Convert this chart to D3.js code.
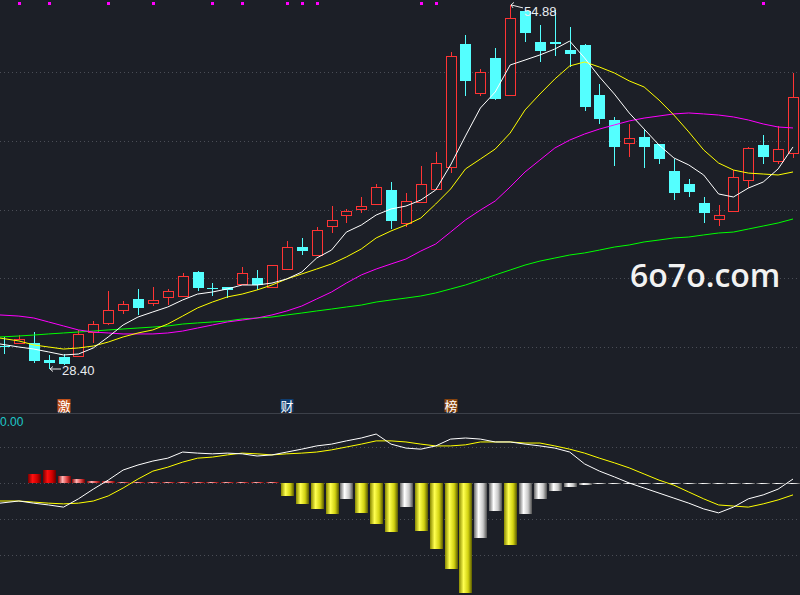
<!DOCTYPE html>
<html>
<head>
<meta charset="utf-8">
<script src="https://cdn.jsdelivr.net/npm/d3@7"></script>
<style>
  html, body { margin: 0; padding: 0; background: #1c1f27; overflow: hidden; }
  svg { display: block; }
</style>
</head>
<body>
<div id="chart"></div>
<script>
// candles (one per trading day, left to right)
const openP  = [30.07,30.29,30.29,29.05,29.27,29.35,31.09,31.75,32.69,33.49,33.20,33.64,33.71,35.45,34.30,34.36,34.58,35.02,34.36,35.67,37.27,36.69,38.80,39.60,40.04,40.40,41.42,39.02,40.55,41.49,43.09,52.04,48.47,51.02,48.33,54.44,52.18,52.18,51.60,51.96,48.33,46.51,44.84,45.27,44.76,42.80,41.85,40.47,39.31,39.89,42.15,44.69,43.53,44.11];
const highP  = [30.73,30.87,31.09,29.42,29.49,31.24,31.89,34.07,33.35,34.22,34.36,34.22,35.38,35.50,34.65,34.40,35.82,35.60,36.00,37.71,37.93,38.73,40.25,40.04,40.91,41.85,42.00,41.20,43.16,44.18,51.45,52.69,50.22,51.75,54.88,54.50,53.42,54.51,53.27,52.00,49.13,46.73,46.22,45.85,44.80,43.67,42.22,40.91,40.33,42.87,44.55,45.42,46.07,49.93];
const lowP   = [29.49,30.22,28.84,28.40,28.69,29.30,30.29,31.60,32.40,32.33,32.98,33.05,33.68,34.07,33.71,33.56,34.55,34.15,34.30,35.60,36.69,36.60,38.29,39.02,39.75,40.35,38.58,38.73,40.50,41.45,42.65,48.25,48.25,48.00,48.30,52.18,50.73,51.16,50.36,47.16,46.22,43.16,43.82,43.02,43.31,40.69,40.91,39.02,38.80,39.85,41.56,43.31,43.31,43.75];
const closeP = [30.05,30.58,28.98,28.84,28.76,30.95,31.67,32.69,33.13,32.84,33.42,34.07,35.16,34.29,34.27,34.15,35.38,34.51,35.96,37.27,36.98,38.51,39.24,39.89,40.25,41.64,39.16,40.62,41.85,43.38,51.16,49.35,50.00,48.04,53.93,52.84,51.53,52.04,51.31,47.45,46.58,44.55,45.20,44.55,43.67,41.20,41.27,39.75,39.60,42.36,44.47,43.82,44.40,48.18];

// moving averages as drawn
const ma5  = [30.22,30.00,29.85,29.64,29.42,29.49,29.93,30.73,31.60,32.18,32.55,32.91,33.42,33.85,34.00,34.22,34.51,34.51,34.65,34.95,35.45,36.47,37.05,38.36,38.87,39.60,40.04,40.25,40.69,41.42,43.24,45.35,47.38,48.55,50.51,50.87,51.24,51.67,52.25,51.02,49.64,48.40,47.02,45.85,44.69,43.75,43.24,42.51,41.13,40.91,41.56,42.00,42.95,44.55];
const ma10 = [30.65,30.44,30.15,30.00,29.85,29.93,30.07,30.36,30.73,31.02,31.24,31.67,32.25,32.84,33.27,33.64,33.85,34.15,34.51,34.95,35.31,35.67,36.04,36.55,37.13,37.93,38.44,38.87,39.38,40.40,41.49,42.95,43.67,44.40,45.56,47.24,48.40,49.49,50.44,50.73,50.36,49.93,49.35,48.91,47.96,46.87,45.64,44.33,43.38,42.87,42.65,42.58,42.51,42.73];
const ma20 = [32.33,32.25,32.11,31.82,31.53,31.24,31.09,31.02,30.95,30.95,30.95,31.02,31.16,31.38,31.60,31.82,31.96,32.11,32.33,32.62,32.98,33.49,34.00,34.65,35.24,35.67,36.04,36.40,36.98,37.49,38.36,39.24,39.96,40.62,41.64,42.73,43.60,44.47,45.05,45.49,45.85,46.15,46.44,46.65,46.80,46.95,47.02,46.95,46.87,46.73,46.51,46.22,46.00,45.93];
const ma60 = [30.73,30.80,30.87,30.95,31.02,31.09,31.16,31.24,31.31,31.38,31.45,31.53,31.67,31.75,31.82,31.89,32.04,32.11,32.18,32.33,32.47,32.62,32.76,32.91,33.05,33.27,33.42,33.56,33.71,33.93,34.22,34.51,34.87,35.24,35.60,35.96,36.25,36.47,36.69,36.84,37.05,37.27,37.42,37.64,37.78,37.93,38.00,38.15,38.29,38.36,38.58,38.80,39.02,39.31];

// lower panel
const dif = [-0.56,-0.50,-0.56,-0.61,-0.67,-0.44,-0.17,0.08,0.36,0.50,0.61,0.69,0.86,0.83,0.81,0.83,0.81,0.75,0.78,0.86,0.94,1.03,1.08,1.17,1.25,1.36,1.08,0.97,0.94,1.03,1.22,1.25,1.22,1.14,1.14,1.08,1.03,0.97,0.86,0.53,0.33,0.17,0.00,-0.14,-0.28,-0.42,-0.56,-0.72,-0.83,-0.67,-0.44,-0.33,-0.17,0.11];
const dea = [-0.50,-0.50,-0.53,-0.56,-0.58,-0.56,-0.50,-0.36,-0.14,0.11,0.33,0.44,0.58,0.69,0.72,0.78,0.83,0.81,0.78,0.81,0.83,0.86,0.92,1.00,1.08,1.17,1.17,1.14,1.08,1.03,1.03,1.06,1.14,1.14,1.14,1.11,1.11,1.03,0.94,0.83,0.69,0.56,0.42,0.25,0.08,-0.06,-0.25,-0.44,-0.61,-0.64,-0.67,-0.58,-0.47,-0.33];
const bars = [0,0,0.25,0.36,0.19,0.11,0.06,0.06,0.04,0.03,0.03,0.03,0.03,0.03,0.03,0.03,0.03,0.03,0.03,-0.36,-0.58,-0.72,-0.86,-0.44,-0.83,-1.14,-1.36,-0.67,-1.33,-1.83,-2.39,-3.06,-1.53,-0.78,-1.72,-0.86,-0.44,-0.22,-0.11,-0.06,-0.03,-0.03,-0.03,-0.03,-0.03,-0.03,-0.03,-0.03,-0.03,-0.03,-0.03,-0.03,-0.03,-0.03];

// signal marks along the top, and tags under the candles
const signalDays = [1, 3, 7, 10, 14, 16, 19, 20, 21, 28, 29, 51];
const tagDays = [4, 19, 30];
const tagText = ["激", "财", "榜"];

const priceTicks = [30, 35, 40, 45, 50];
const macdTicks = [-2, -1, 0, 1];

const width = 800, height = 595;
const bg = "#1c1f27";
const upColor = "#ff3434", downColor = "#54ffff";
const tagFill = ["#c0501a", "#0f3d70", "#86430e"];

const svg = d3.select("#chart").append("svg")
  .attr("width", width)
  .attr("height", height);

svg.append("rect").attr("width", width).attr("height", height).attr("fill", bg);

const x = d3.scaleLinear().domain([0, openP.length - 1]).range([4, 793]);
const y = d3.scaleLinear().domain([30, 50]).range([347, 72]);
const yM = d3.scaleLinear().domain([-2, 1]).range([555, 447]);
const px = (i) => Math.round(x(i));

// gradients for the histogram bars
const defs = svg.append("defs");
const grads = {
  red:    ["#7a0000", "#ff1010", "#d00000", "#6a0000"],
  pink:   ["#8a0000", "#ffb4b4", "#e04040", "#700000"],
  yellow: ["#8a8a00", "#ffff50", "#d2d210", "#5a5a00"],
  white:  ["#6a6a6a", "#ffffff", "#c8c8c8", "#505050"]
};
Object.keys(grads).forEach((k) => {
  const g = defs.append("linearGradient").attr("id", "g_" + k)
    .attr("x1", 0).attr("x2", 1).attr("y1", 0).attr("y2", 0);
  [0, 0.35, 0.7, 1].forEach((o, j) => {
    g.append("stop").attr("offset", o).attr("stop-color", grads[k][j]);
  });
});
defs.append("clipPath").attr("id", "clipMain")
  .append("rect").attr("x", 0).attr("y", 0).attr("width", width).attr("height", 412);
defs.append("clipPath").attr("id", "clipMacd")
  .append("rect").attr("x", 0).attr("y", 414).attr("width", width).attr("height", 181);

// dotted grid
const gridG = svg.append("g").attr("stroke", "#4a4d56").attr("stroke-dasharray", "1,3");
priceTicks.forEach((t) => {
  const yy = Math.round(y(t)) + 0.5;
  gridG.append("line").attr("x1", 0).attr("x2", width).attr("y1", yy).attr("y2", yy);
});
macdTicks.forEach((t) => {
  const yy = Math.round(yM(t)) + 0.5;
  gridG.append("line").attr("x1", 0).attr("x2", width).attr("y1", yy).attr("y2", yy);
});

// panel separator
svg.append("line")
  .attr("x1", 0).attr("x2", width).attr("y1", 413.5).attr("y2", 413.5)
  .attr("stroke", "#3c4049").attr("stroke-width", 1.2);

// candles
const main = svg.append("g").attr("clip-path", "url(#clipMain)");
const candleG = main.append("g").attr("shape-rendering", "crispEdges");
openP.forEach((o, i) => {
  const c = closeP[i];
  const up = c > o;
  const col = up ? upColor : downColor;
  const cx = px(i) + 0.5;
  const top = Math.round(y(Math.max(o, c)));
  const bot = Math.round(y(Math.min(o, c)));
  const hy = Math.round(y(highP[i]));
  const ly = Math.round(y(lowP[i]));
  if (up) {
    if (hy < top) candleG.append("line").attr("x1", cx).attr("x2", cx).attr("y1", hy).attr("y2", top).attr("stroke", col);
    if (ly > bot) candleG.append("line").attr("x1", cx).attr("x2", cx).attr("y1", bot).attr("y2", ly).attr("stroke", col);
    candleG.append("rect")
      .attr("x", px(i) - 5 + 0.5).attr("y", top + 0.5)
      .attr("width", 10).attr("height", Math.max(bot - top, 1))
      .attr("fill", bg).attr("stroke", col);
  } else {
    candleG.append("line").attr("x1", cx).attr("x2", cx).attr("y1", hy).attr("y2", ly).attr("stroke", col);
    candleG.append("rect")
      .attr("x", px(i) - 5).attr("y", top)
      .attr("width", 11).attr("height", Math.max(bot - top, 1))
      .attr("fill", col);
  }
});

// moving averages (extended flat to the left edge like the terminal does)
const maLine = d3.line().x((d, i) => (i === 0 ? 0 : x(i))).y((d) => y(d));
[[ma60, "#00ff00"], [ma20, "#ff00ff"], [ma10, "#ffff00"], [ma5, "#ffffff"]].forEach(([s, col]) => {
  main.append("path").datum(s)
    .attr("d", maLine)
    .attr("fill", "none")
    .attr("stroke", col)
    .attr("stroke-width", 1);
});

// high / low marks
const hiIdx = d3.maxIndex(highP), loIdx = d3.minIndex(lowP);
const hx = px(hiIdx), hyy = y(highP[hiIdx]);
svg.append("path")
  .attr("d", `M${hx + 1},${hyy} L${hx + 13},${hyy + 3} M${hx + 1},${hyy} l3,-2.5 M${hx + 1},${hyy} l2,3`)
  .attr("stroke", "#e8e8e8").attr("fill", "none");
svg.append("text")
  .attr("x", hx + 14).attr("y", hyy + 11.5)
  .attr("font-family", "Liberation Sans, Arial, sans-serif")
  .attr("font-size", 13).attr("fill", "#e8ecf0")
  .text(highP[hiIdx].toFixed(2));

const lx = px(loIdx), lyy = y(lowP[loIdx]);
svg.append("path")
  .attr("d", `M${lx + 1},${lyy} L${lx + 12},${lyy} M${lx + 1},${lyy} l3,-2.5 M${lx + 1},${lyy} l3,2.5`)
  .attr("stroke", "#e8e8e8").attr("fill", "none");
svg.append("text")
  .attr("x", lx + 13).attr("y", lyy + 6)
  .attr("font-family", "Liberation Sans, Arial, sans-serif")
  .attr("font-size", 13).attr("fill", "#e8ecf0")
  .text(lowP[loIdx].toFixed(2));

// signal marks
svg.append("g").selectAll("rect")
  .data(signalDays)
  .join("rect")
  .attr("x", (d) => px(d) - 1).attr("y", 2)
  .attr("width", 3).attr("height", 3)
  .attr("fill", "#ff00ff");

// tags
tagDays.forEach((d, k) => {
  const cx = px(d);
  svg.append("rect")
    .attr("x", cx - 6.5).attr("y", 399)
    .attr("width", 13).attr("height", 13)
    .attr("fill", tagFill[k]);
  svg.append("text")
    .attr("x", cx).attr("y", 410.5)
    .attr("text-anchor", "middle")
    .attr("font-family", "Noto Sans CJK SC, sans-serif")
    .attr("font-size", 13).attr("fill", "#ffffff")
    .text(tagText[k]);
});

// watermark
svg.append("text")
  .attr("x", 630).attr("y", 287)
  .attr("font-family", "Open Sans, DejaVu Sans, sans-serif")
  .attr("font-weight", 600)
  .attr("font-size", 32)
  .attr("fill", "#f2f2f2")
  .text("6o7o.com");

// lower panel: histogram then lines
const macdG = svg.append("g").attr("clip-path", "url(#clipMacd)");
const zeroY = yM(0);
macdG.append("g").attr("shape-rendering", "crispEdges")
  .selectAll("rect")
  .data(bars)
  .join("rect")
  .attr("x", (d, i) => px(i) - 6)
  .attr("width", 13)
  .attr("y", (d) => (d >= 0 ? yM(d) : zeroY))
  .attr("height", (d) => (d === 0 ? 0 : Math.max(Math.abs(yM(d) - zeroY), 1)))
  .attr("fill", (d, i) => {
    const prev = i > 0 ? bars[i - 1] : 0;
    if (d > 0) return d > prev ? "url(#g_red)" : "url(#g_pink)";
    return d < prev ? "url(#g_yellow)" : "url(#g_white)";
  });

const mLine = d3.line().x((d, i) => (i === 0 ? 0 : x(i))).y((d) => yM(d));
macdG.append("path").datum(dea).attr("d", mLine)
  .attr("fill", "none").attr("stroke", "#ffff00").attr("stroke-width", 1);
macdG.append("path").datum(dif).attr("d", mLine)
  .attr("fill", "none").attr("stroke", "#ffffff").attr("stroke-width", 1);

svg.append("text")
  .attr("x", 0).attr("y", 426)
  .attr("font-family", "Liberation Sans, Arial, sans-serif")
  .attr("font-size", 12).attr("fill", "#1ec8c8")
  .text("0.00");
</script>
</body>
</html>
